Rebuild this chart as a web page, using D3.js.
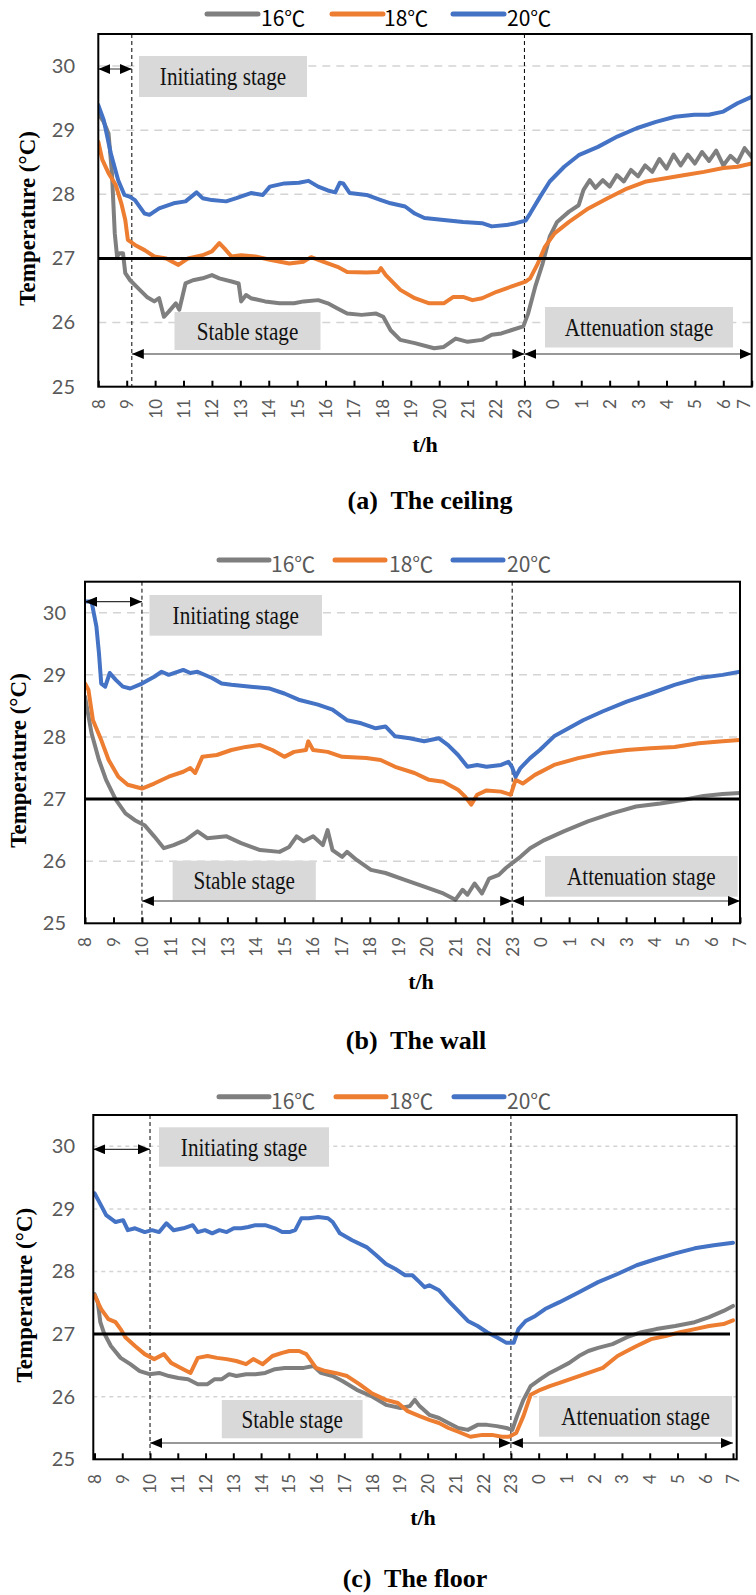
<!DOCTYPE html>
<html>
<head>
<meta charset="utf-8">
<script src="https://cdn.jsdelivr.net/npm/d3@7"></script>
<style>
  html, body { margin: 0; padding: 0; background: #fff; }
  svg { display: block; }
</style>
</head>
<body>
<svg id="chart" width="756" height="1595"></svg>
<script>
// x = hours after 08:00, y = temperature in degC
const hourLabels = ["8","9","10","11","12","13","14","15","16","17","18","19","20","21","22","23","0","1","2","3","4","5","6","7"];
const yTicks = [25, 26, 27, 28, 29, 30];
const gridValues = [26, 28, 29, 30];
const seriesNames = ["16℃", "18℃", "20℃"];
const seriesColors = ["#7f7f7f", "#ed7d31", "#4472c4"];
const comfortLine = 27;

// (a) ceiling
const ceiling16 = [[0,29.26],[0.19,29.13],[0.36,28.95],[0.48,28.33],[0.58,27.39],[0.66,27.03],[0.75,27.08],[0.87,27.08],[0.95,26.77],[1.12,26.66],[1.46,26.51],[1.71,26.40],[1.97,26.33],[2.14,26.38],[2.31,26.09],[2.48,26.17],[2.73,26.30],[2.85,26.20],[3.07,26.61],[3.33,26.66],[3.67,26.69],[4.0,26.74],[4.26,26.69],[4.69,26.64],[4.94,26.61],[5.03,26.33],[5.2,26.43],[5.37,26.38],[5.87,26.33],[6.38,26.30],[6.89,26.30],[7.23,26.33],[7.74,26.35],[8.08,26.30],[8.42,26.22],[8.76,26.14],[9.27,26.12],[9.78,26.14],[10.03,26.09],[10.29,25.88],[10.63,25.73],[11.14,25.68],[11.82,25.60],[12.16,25.62],[12.58,25.75],[13.0,25.70],[13.51,25.73],[13.85,25.81],[14.19,25.83],[14.53,25.88],[14.96,25.94],[15.13,26.14],[15.38,26.56],[15.64,26.92],[15.89,27.34],[16.15,27.57],[16.57,27.73],[16.91,27.83],[17.08,28.07],[17.3,28.22],[17.5,28.10],[17.76,28.22],[18.0,28.12],[18.25,28.30],[18.5,28.20],[18.75,28.38],[19.0,28.28],[19.25,28.45],[19.5,28.35],[19.75,28.55],[20.0,28.40],[20.25,28.62],[20.5,28.45],[20.75,28.62],[21.0,28.48],[21.25,28.66],[21.5,28.52],[21.75,28.68],[22.0,28.45],[22.25,28.60],[22.5,28.50],[22.75,28.72],[23,28.58]];
const ceiling18 = [[0,28.82],[0.14,28.54],[0.36,28.33],[0.61,28.15],[0.81,27.86],[0.95,27.60],[1.04,27.29],[1.29,27.21],[1.63,27.13],[1.97,27.03],[2.39,27.00],[2.82,26.90],[3.16,27.00],[3.67,27.05],[4.0,27.11],[4.26,27.24],[4.43,27.16],[4.69,27.03],[5.03,27.05],[5.53,27.03],[6.04,26.98],[6.72,26.92],[7.23,26.95],[7.49,27.02],[7.91,26.95],[8.42,26.87],[8.76,26.79],[9.44,26.78],[9.86,26.79],[9.95,26.85],[10.12,26.74],[10.63,26.51],[11.14,26.38],[11.65,26.30],[12.16,26.30],[12.5,26.40],[12.84,26.40],[13.17,26.35],[13.51,26.38],[14.02,26.48],[14.53,26.56],[15.04,26.64],[15.2,26.69],[15.47,26.92],[15.72,27.18],[16.06,27.39],[16.57,27.57],[17.25,27.78],[17.93,27.94],[18.61,28.09],[19.29,28.20],[19.97,28.25],[20.65,28.30],[21.32,28.35],[22.0,28.41],[22.5,28.43],[23,28.48]];
const ceiling20 = [[0,29.39],[0.19,29.16],[0.44,28.64],[0.7,28.22],[0.92,27.99],[1.12,27.96],[1.29,27.91],[1.63,27.70],[1.8,27.68],[2.14,27.78],[2.65,27.86],[3.07,27.89],[3.46,28.03],[3.67,27.94],[4.0,27.91],[4.5,27.89],[4.86,27.94],[5.37,28.02],[5.79,27.99],[6.04,28.12],[6.55,28.17],[7.06,28.18],[7.4,28.21],[7.74,28.12],[8.08,28.06],[8.34,28.03],[8.5,28.18],[8.62,28.17],[8.85,28.02],[9.44,27.99],[9.95,27.91],[10.29,27.86],[10.8,27.81],[11.14,27.70],[11.48,27.63],[12.16,27.60],[12.84,27.57],[13.51,27.55],[13.85,27.50],[14.36,27.52],[14.7,27.55],[15.04,27.59],[15.2,27.70],[15.55,27.96],[15.89,28.20],[16.4,28.43],[16.91,28.61],[17.59,28.74],[18.27,28.90],[18.95,29.03],[19.63,29.13],[20.3,29.21],[20.98,29.24],[21.49,29.24],[22.0,29.29],[22.5,29.42],[23,29.52]];

// (b) wall
const wall16 = [[0,28.65],[0.23,28.06],[0.49,27.63],[0.74,27.31],[1.08,26.99],[1.42,26.77],[1.75,26.66],[2.09,26.58],[2.43,26.40],[2.77,26.21],[3.11,26.26],[3.53,26.34],[3.95,26.48],[4.29,26.37],[4.97,26.40],[5.48,26.29],[6.15,26.18],[6.83,26.15],[7.17,26.23],[7.43,26.40],[7.68,26.32],[8.01,26.40],[8.35,26.26],[8.52,26.50],[8.69,26.18],[9.03,26.07],[9.2,26.15],[9.54,26.02],[10.04,25.86],[10.55,25.81],[11.23,25.70],[11.91,25.59],[12.58,25.48],[13.01,25.38],[13.26,25.54],[13.43,25.46],[13.68,25.64],[13.94,25.48],[14.19,25.72],[14.53,25.78],[14.78,25.89],[15.0,25.97],[15.29,26.07],[15.63,26.21],[16.13,26.34],[16.81,26.48],[17.66,26.64],[18.5,26.77],[19.35,26.88],[20.2,26.93],[21.04,26.99],[21.72,27.05],[22.39,27.08],[23,27.10]];
const wall18 = [[0,28.86],[0.12,28.76],[0.28,28.27],[0.57,27.95],[0.83,27.63],[1.17,27.36],[1.5,27.23],[2.0,27.17],[2.43,27.25],[2.94,27.36],[3.45,27.44],[3.7,27.50],[3.87,27.42],[4.12,27.68],[4.63,27.71],[5.14,27.79],[5.65,27.84],[6.15,27.87],[6.58,27.79],[7.0,27.68],[7.34,27.76],[7.76,27.79],[7.84,27.93],[8.01,27.79],[8.52,27.76],[9.03,27.68],[9.88,27.66],[10.38,27.63],[10.89,27.52],[11.57,27.42],[12.08,27.31],[12.58,27.28],[13.1,27.15],[13.35,27.04],[13.56,26.91],[13.77,27.07],[14.1,27.14],[14.61,27.12],[14.95,27.07],[15.12,27.31],[15.37,27.25],[15.8,27.39],[16.47,27.55],[17.32,27.66],[18.17,27.74],[19.02,27.79],[19.86,27.82],[20.7,27.84],[21.55,27.90],[22.39,27.93],[23,27.95]];
const wall20 = [[0,30.18],[0.23,30.18],[0.4,29.78],[0.49,29.35],[0.57,28.86],[0.71,28.81],[0.87,29.03],[1.08,28.92],[1.33,28.81],[1.59,28.78],[2.0,28.86],[2.43,28.97],[2.69,29.05],[2.94,29.00],[3.45,29.08],[3.7,29.03],[3.95,29.05],[4.46,28.95],[4.8,28.86],[5.14,28.84],[5.82,28.81],[6.49,28.78],[7.0,28.70],[7.5,28.60],[8.18,28.52],[8.69,28.44],[9.2,28.27],[9.7,28.22],[10.21,28.14],[10.55,28.17],[10.89,28.01],[11.4,27.98],[11.91,27.93],[12.42,27.98],[12.75,27.87],[13.1,27.71],[13.43,27.52],[13.77,27.55],[14.1,27.52],[14.61,27.55],[14.87,27.60],[14.99,27.52],[15.12,27.36],[15.29,27.50],[15.63,27.66],[15.97,27.79],[16.47,28.01],[16.98,28.14],[17.49,28.27],[18.17,28.41],[19.02,28.57],[19.86,28.70],[20.7,28.84],[21.55,28.95],[22.39,29.00],[23,29.05]];

// (c) floor
const floor16 = [[0,27.64],[0.12,27.51],[0.21,27.19],[0.33,27.03],[0.59,26.81],[0.94,26.62],[1.29,26.52],[1.63,26.41],[1.98,26.36],[2.33,26.38],[2.68,26.33],[3.02,26.30],[3.37,26.28],[3.72,26.20],[4.07,26.20],[4.33,26.28],[4.59,26.28],[4.85,26.36],[5.11,26.33],[5.46,26.36],[5.8,26.36],[6.15,26.38],[6.5,26.44],[6.85,26.46],[7.19,26.46],[7.54,26.46],[7.89,26.49],[8.15,26.38],[8.58,26.33],[8.93,26.25],[9.45,26.11],[9.97,26.01],[10.5,25.87],[11.02,25.82],[11.36,25.85],[11.54,25.95],[11.71,25.85],[12.06,25.71],[12.41,25.66],[12.75,25.58],[13.1,25.50],[13.45,25.47],[13.8,25.55],[14.14,25.55],[14.49,25.53],[14.84,25.50],[15.05,25.47],[15.22,25.69],[15.45,25.95],[15.71,26.17],[16.06,26.28],[16.4,26.38],[16.75,26.46],[17.1,26.54],[17.45,26.65],[17.79,26.73],[18.14,26.78],[18.66,26.84],[19.18,26.95],[19.7,27.03],[20.23,27.08],[20.92,27.13],[21.62,27.19],[22.14,27.27],[22.66,27.37],[23,27.45]];
const floor18 = [[0,27.62],[0.24,27.40],[0.5,27.24],[0.76,27.19],[0.94,27.08],[1.11,26.95],[1.46,26.81],[1.81,26.68],[2.15,26.60],[2.5,26.68],[2.76,26.54],[3.11,26.46],[3.46,26.38],[3.72,26.62],[4.07,26.65],[4.41,26.62],[4.76,26.60],[5.11,26.57],[5.46,26.52],[5.72,26.60],[6.06,26.52],[6.41,26.65],[6.76,26.70],[7.02,26.73],[7.37,26.73],[7.63,26.68],[7.98,26.46],[8.32,26.41],[8.67,26.38],[9.1,26.33],[9.54,26.20],[9.97,26.06],[10.5,25.95],[10.93,25.90],[11.28,25.77],[11.71,25.69],[12.06,25.63],[12.41,25.58],[12.75,25.50],[13.1,25.44],[13.54,25.36],[13.97,25.39],[14.32,25.39],[14.67,25.36],[14.93,25.36],[15.19,25.42],[15.45,25.69],[15.71,26.03],[16.06,26.11],[16.4,26.17],[16.75,26.22],[17.27,26.30],[17.79,26.38],[18.31,26.46],[18.84,26.65],[19.18,26.73],[19.53,26.81],[20.05,26.92],[20.57,26.97],[21.09,27.03],[21.62,27.08],[22.14,27.13],[22.66,27.16],[23,27.22]];
const floor20 = [[0,29.25],[0.16,29.12],[0.42,28.90],[0.76,28.79],[1.03,28.82],[1.2,28.66],[1.46,28.69],[1.81,28.63],[2.07,28.66],[2.33,28.63],[2.59,28.77],[2.85,28.66],[3.2,28.69],[3.54,28.74],[3.72,28.63],[3.98,28.66],[4.24,28.61],[4.5,28.66],[4.76,28.63],[5.02,28.69],[5.28,28.69],[5.54,28.71],[5.8,28.74],[6.15,28.74],[6.5,28.69],[6.76,28.63],[7.02,28.63],[7.23,28.66],[7.45,28.85],[7.72,28.85],[8.06,28.87],[8.41,28.85],[8.58,28.79],[8.84,28.61],[9.28,28.50],[9.8,28.39],[10.15,28.26],[10.5,28.12],[10.84,28.04],[11.19,27.94],[11.45,27.94],[11.71,27.83],[11.89,27.75],[12.06,27.78],[12.41,27.70],[12.75,27.53],[13.1,27.37],[13.45,27.21],[13.8,27.13],[14.14,27.03],[14.49,26.95],[14.84,26.86],[15.1,26.86],[15.27,27.08],[15.53,27.21],[15.88,27.29],[16.23,27.40],[16.75,27.51],[17.45,27.67],[18.14,27.83],[18.84,27.96],[19.53,28.10],[20.23,28.20],[20.92,28.29],[21.62,28.37],[22.31,28.42],[23,28.46]];

// stage boundaries (hours after 08:00)
const stageBreaks = { a: [1.18, 15], b: [2, 15], c: [2, 15] };
const stageNames = ["Initiating stage", "Stable stage", "Attenuation stage"];

const panels = [
  { key: "a", caption: "(a)  The ceiling", yTitle: "Temperature (°C)", series: [ceiling16, ceiling18, ceiling20],
    box: [98.3, 34, 751.7, 386.7], xr: [98.3, 751.7], labelX: 75, titleX: 27, legendY: 14, legendText: "#000",
    legendX: [207, 332, 453], legendLen: 51, txtX: [261, 384, 507],
    initArrowY: 69, stableArrowY: 354, grayBoxes: [[139, 56, 307, 97], [174.5, 312, 320.5, 350], [545, 307, 733, 347.5]],
    tickLabelY: 399, thY: 452, capY: 509, capX: 430, thX: 425, lineEnd: 751.7, gridDash: "8,6" },
  { key: "b", caption: "(b)  The wall", yTitle: "Temperature  (°C)", series: [wall16, wall18, wall20],
    box: [85, 581.7, 740, 923.3], xr: [85, 740], labelX: 66, titleX: 18, legendY: 560, legendText: "#595959",
    legendX: [219, 335, 453], legendLen: 50, txtX: [271, 389, 507],
    initArrowY: 601.7, stableArrowY: 901, grayBoxes: [[149.5, 595, 322, 635.7], [172.6, 860.7, 315.8, 900], [545, 856, 737.7, 896.7]],
    tickLabelY: 937, thY: 989, capY: 1049, capX: 416, thX: 421, lineEnd: 740, gridDash: "8,6" },
  { key: "c", caption: "(c)  The floor", yTitle: "Temperature  (°C)", series: [floor16, floor18, floor20],
    box: [93.3, 1115, 736.7, 1459.3], xr: [94.5, 733], labelX: 75, titleX: 24, legendY: 1096.7, legendText: "#595959",
    legendX: [219, 336, 454], legendLen: 50, txtX: [271, 389, 507],
    initArrowY: 1149.3, stableArrowY: 1443, grayBoxes: [[159, 1127.3, 329, 1166.7], [221.8, 1400, 362.6, 1438.3], [539, 1396, 732, 1436.7]],
    tickLabelY: 1474, thY: 1525, capY: 1587, capX: 415, thX: 423, lineEnd: 730, gridDash: "4,4" }
];

const svg = d3.select("#chart");
const defs = svg.append("defs");

defs.append("marker")
  .attr("id", "head")
  .attr("viewBox", "0 0 12 10")
  .attr("refX", 12)
  .attr("refY", 5)
  .attr("markerUnits", "userSpaceOnUse")
  .attr("markerWidth", 12)
  .attr("markerHeight", 10)
  .attr("orient", "auto-start-reverse")
  .append("path")
  .attr("d", "M0,0 L12,5 L0,10 Z")
  .attr("fill", "#000");

const serif = "'Liberation Serif', 'Times New Roman', serif";
const sans = "Lato, 'Open Sans', sans-serif";

panels.forEach((p) => {
  const [x0, y0, x1, y1] = p.box;
  const x = d3.scaleLinear().domain([0, 23]).range(p.xr);
  const y = d3.scaleLinear().domain([25, 30.5]).range([y1, y0]);
  const g = svg.append("g").attr("class", "panel-" + p.key);

  defs.append("clipPath").attr("id", "clip-" + p.key)
    .append("rect").attr("x", x0).attr("y", y0).attr("width", x1 - x0).attr("height", y1 - y0);

  // grid
  g.append("g").selectAll("line").data(gridValues).join("line")
    .attr("x1", x0).attr("x2", x1)
    .attr("y1", (d) => y(d)).attr("y2", (d) => y(d))
    .attr("stroke", "#d4d4d4").attr("stroke-width", 1.5)
    .attr("stroke-dasharray", p.gridDash);

  // stage label boxes
  const boxes = g.append("g");
  p.grayBoxes.forEach((b, i) => {
    boxes.append("rect")
      .attr("x", b[0]).attr("y", b[1]).attr("width", b[2] - b[0]).attr("height", b[3] - b[1])
      .attr("fill", "#d9d9d9");
    boxes.append("text")
      .attr("transform", `translate(${(b[0] + b[2]) / 2},${(b[1] + b[3]) / 2}) scale(0.92,1.12)`)
      .attr("dy", "0.33em")
      .attr("text-anchor", "middle")
      .attr("font-family", serif)
      .attr("font-size", 23)
      .attr("fill", "#111")
      .text(stageNames[i]);
  });

  // vertical stage dividers
  const br = stageBreaks[p.key];
  g.append("g").selectAll("line").data(br).join("line")
    .attr("x1", (d) => x(d)).attr("x2", (d) => x(d))
    .attr("y1", y0).attr("y2", y1)
    .attr("stroke", "#000").attr("stroke-width", 1)
    .attr("stroke-dasharray", "4,3");

  // curves
  const line = d3.line().x((d) => x(d[0])).y((d) => y(d[1]));
  g.append("g").attr("clip-path", `url(#clip-${p.key})`)
    .selectAll("path").data(p.series).join("path")
    .attr("d", line)
    .attr("fill", "none")
    .attr("stroke", (d, i) => seriesColors[i])
    .attr("stroke-width", 4)
    .attr("stroke-linejoin", "round")
    .attr("stroke-linecap", "round");

  // 27 degC reference line
  g.append("line")
    .attr("x1", x0).attr("x2", p.lineEnd)
    .attr("y1", y(comfortLine)).attr("y2", y(comfortLine))
    .attr("stroke", "#000").attr("stroke-width", 3);

  // stage arrows
  const arrows = [
    [x0, x(br[0]), p.initArrowY],
    [x(br[0]), x(br[1]), p.stableArrowY],
    [x(br[1]), p.xr[1], p.stableArrowY]
  ];
  g.append("g").selectAll("line").data(arrows).join("line")
    .attr("x1", (d) => d[0]).attr("x2", (d) => d[1])
    .attr("y1", (d) => d[2]).attr("y2", (d) => d[2])
    .attr("stroke", "#333").attr("stroke-width", 1.2)
    .attr("marker-start", "url(#head)")
    .attr("marker-end", "url(#head)");

  // frame
  g.append("rect")
    .attr("x", x0).attr("y", y0).attr("width", x1 - x0).attr("height", y1 - y0)
    .attr("fill", "none").attr("stroke", "#000").attr("stroke-width", 2);

  // y axis
  const yAxis = g.append("g")
    .attr("transform", `translate(${p.labelX},0)`)
    .call(d3.axisLeft(y).tickValues(yTicks).tickSize(0).tickPadding(0).tickFormat(d3.format("d")));
  yAxis.select(".domain").remove();
  yAxis.selectAll("text")
    .attr("font-family", sans)
    .attr("font-size", 20)
    .attr("fill", "#595959");

  // x axis with inward ticks
  const xAxis = g.append("g")
    .attr("transform", `translate(0,${y1})`)
    .call(d3.axisBottom(x).tickValues(d3.range(24)).tickSize(-6).tickFormat((d, i) => hourLabels[i]));
  xAxis.select(".domain").remove();
  xAxis.selectAll(".tick line").attr("stroke", "#000").attr("stroke-width", 2);
  xAxis.selectAll("text")
    .attr("font-family", sans)
    .attr("font-size", 17)
    .attr("fill", "#595959")
    .attr("text-anchor", "end")
    .attr("transform", (d) => {
      // keep the last label inside the page edge
      const shift = Math.min(0, 744 - x(d));
      return `translate(${shift},${p.tickLabelY - y1}) rotate(-90)`;
    })
    .attr("x", 0).attr("y", 0).attr("dy", "0.35em");

  // titles
  g.append("text")
    .attr("transform", `translate(${p.titleX},${(y0 + y1) / 2 + 8}) rotate(-90)`)
    .attr("dy", "0.35em")
    .attr("text-anchor", "middle")
    .attr("font-family", serif)
    .attr("font-weight", "bold")
    .attr("font-size", 23)
    .text(p.yTitle);

  g.append("text")
    .attr("x", p.thX).attr("y", p.thY)
    .attr("text-anchor", "middle")
    .attr("font-family", serif)
    .attr("font-weight", "bold")
    .attr("font-size", 22)
    .text("t/h");

  g.append("text")
    .attr("x", p.capX).attr("y", p.capY)
    .attr("text-anchor", "middle")
    .attr("font-family", serif)
    .attr("font-weight", "bold")
    .attr("font-size", 26)
    .style("white-space", "pre")
    .text(p.caption);

  // legend
  const leg = g.append("g");
  seriesNames.forEach((name, i) => {
    leg.append("line")
      .attr("x1", p.legendX[i]).attr("x2", p.legendX[i] + p.legendLen)
      .attr("y1", p.legendY).attr("y2", p.legendY)
      .attr("stroke", seriesColors[i]).attr("stroke-width", 5)
      .attr("stroke-linecap", "round");
    leg.append("text")
      .attr("x", p.txtX[i]).attr("y", p.legendY + 12)
      .attr("font-family", "'Noto Sans CJK SC', sans-serif")
      .attr("font-size", 21)
      .attr("fill", p.legendText)
      .text(name);
  });
});
</script>
</body>
</html>
